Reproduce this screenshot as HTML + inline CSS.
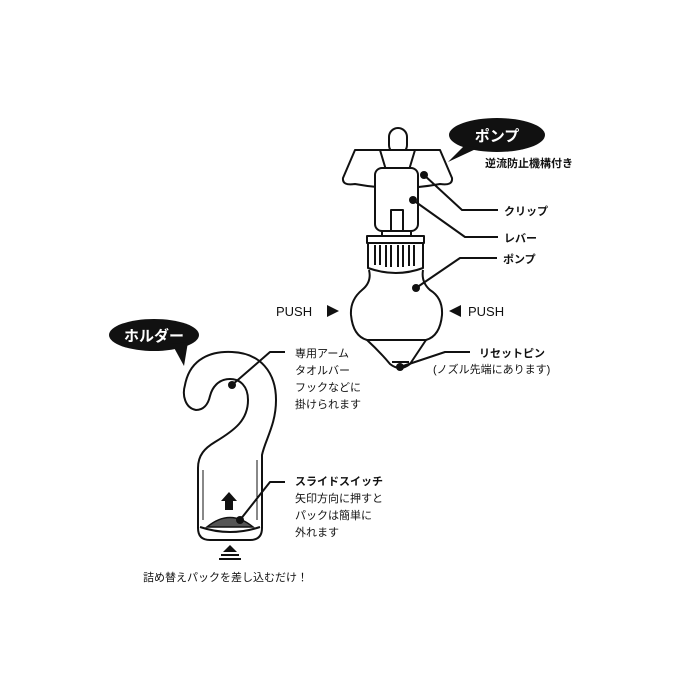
<!DOCTYPE html>
<html><head><meta charset="utf-8"><style>
body{margin:0;background:#fff;}
svg{display:block}
text{font-family:"Liberation Sans","Noto Sans CJK JP",sans-serif;fill:#111;}
</style></head><body>
<svg width="700" height="700" viewBox="0 0 700 700" xmlns="http://www.w3.org/2000/svg">
<g fill="none" stroke="#111" stroke-width="2" stroke-linejoin="round">
<!-- ring -->
<rect x="389" y="128" width="18" height="26" rx="9"/>
<!-- cap -->
<path d="M355 150 L440 150 L452 178 Q453 186 440 184 Q397 192 355 184 Q342 186 343 178 Z" fill="#fff"/>
<path d="M380 150 L386 170 M415 150 L409 170"/>
<!-- clip -->
<rect x="375" y="168" width="43" height="63" rx="7" fill="#fff"/>
<rect x="391" y="210" width="12" height="21" fill="#fff"/>
<rect x="382" y="231" width="29" height="5" fill="#fff"/>
<!-- collar -->
<rect x="367" y="236" width="57" height="7" fill="#fff"/>
<path d="M368 243 L368 268 Q396 278 423 268 L423 243"/>
<path d="M375 245 V265 M380 245 V265 M386 245 V267 M391 245 V267 M398 245 V267 M403 245 V267 M409 245 V266 M414 245 V266"/>
<!-- bulb -->
<path d="M369 270 Q372 282 362 290 Q350 300 351 315 Q353 336 367 340 L426 340 Q440 336 442 315 Q443 298 430 290 Q421 282 423 270"/>
<path d="M367 340 Q380 352 390 364 Q400 372 410 364 Q418 352 426 340"/>
<line x1="392" y1="362" x2="409" y2="362"/>
<!-- hook -->
<path d="M196 410 C185 408 182 395 185 385 C190 358 212 351 232 352 C260 353 276 372 276 400 C276 425 265 440 262 455 L262 528 Q262 540 250 540 L210 540 Q198 540 198 528 L198 468 C198 455 205 448 215 442 C235 430 248 420 248 400 C248 386 240 379 230 379 C218 379 212 388 210 396 C208 405 203 410 196 410 Z" fill="#fff"/>
<path d="M203 470 L203 520 M257 460 L257 520" stroke-width="1"/>
<path d="M200 527 Q230 537 260 527"/>
<!-- connectors -->
<path d="M424 175 L462 210 L498 210"/>
<path d="M413 200 L465 237 L498 237"/>
<path d="M416 288 L460 258 L497 258"/>
<path d="M400 367 L445 352 L470 352"/>
<path d="M232 385 L270 352 L285 352"/>
<path d="M240 520 L270 482 L285 482"/>
</g>
<path d="M207 527 Q230 508 253 527 Z" fill="#555" stroke="#111" stroke-width="1.5"/>
<g fill="#111">
<circle cx="424" cy="175" r="4"/><circle cx="413" cy="200" r="4"/><circle cx="416" cy="288" r="4"/><circle cx="400" cy="367" r="4"/><circle cx="232" cy="385" r="4"/><circle cx="240" cy="520" r="4"/>
<!-- bubbles -->
<ellipse cx="497" cy="135" rx="48" ry="17"/>
<path d="M465 145 L448 162 L478 148 Z"/>
<ellipse cx="154" cy="335" rx="45" ry="16"/>
<path d="M172 344 L184 366 L188 342 Z"/>
<!-- push triangles -->
<path d="M327 305 L339 311 L327 317 Z"/>
<path d="M461 305 L449 311 L461 317 Z"/>
<!-- up arrow -->
<path d="M229 492 L237 501 L233 501 L233 510 L225 510 L225 501 L221 501 Z"/>
<path d="M230 545 L237 552 L223 552 Z"/>
<rect x="221" y="554" width="18" height="2"/><rect x="219" y="558" width="22" height="2"/>
</g>
<text x="497" y="141" font-size="15" font-weight="bold" text-anchor="middle" style="fill:#fff">ポンプ</text>
<text x="154" y="341" font-size="15" font-weight="bold" text-anchor="middle" style="fill:#fff">ホルダー</text>
<g font-size="11" font-weight="bold">
<text x="485" y="167">逆流防止機構付き</text>
<text x="504" y="215">クリップ</text>
<text x="504" y="242">レバー</text>
<text x="503" y="263">ポンプ</text>
<text x="479" y="357">リセットピン</text>
<text x="295" y="485">スライドスイッチ</text>
</g>
<g font-size="11">
<text x="433" y="373">(ノズル先端にあります)</text>
<text x="295" y="357">専用アーム</text>
<text x="295" y="374">タオルバー</text>
<text x="295" y="391">フックなどに</text>
<text x="295" y="408">掛けられます</text>
<text x="295" y="502">矢印方向に押すと</text>
<text x="295" y="519">パックは簡単に</text>
<text x="295" y="536">外れます</text>
<text x="143" y="581">詰め替えパックを差し込むだけ！</text>
</g>
<g font-size="13">
<text x="276" y="316">PUSH</text>
<text x="468" y="316">PUSH</text>
</g>
</svg>
</body></html>
